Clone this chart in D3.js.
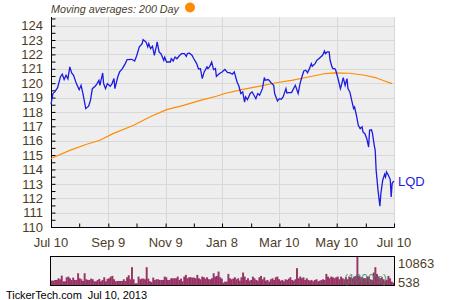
<!DOCTYPE html>
<html>

<head>
  <script src="https://d3js.org/d3.v7.min.js"></script>
  <style>
    body { margin: 0; background: #fff; }
    text { font-family: "Liberation Sans", Arial, sans-serif; }
  </style>
</head>

<body>

  <div id="chart"></div>

  <script>
    // LQD daily close, Jul 10 2012 -> Jul 10 2013 (day offsets from start)
    const startDate = new Date(2012, 6, 10);
    const endDate = new Date(2013, 6, 10);

    const priceDays = [0, 2, 4, 7, 10, 12, 14, 16, 18, 20,
      22, 24, 27, 30, 32, 34, 37, 40, 42, 44,
      47, 49, 51, 52, 55, 56, 58, 60, 63, 65,
      67, 68, 71, 73, 76, 79, 81, 86, 89, 91,
      94, 97, 98, 101, 103, 104, 106, 108, 110, 112,
      113, 115, 117, 120, 121, 123, 127, 128, 130, 132,
      134, 137, 139, 142, 144, 145, 147, 150, 152, 155,
      157, 159, 161, 163, 166, 167, 169, 171, 173, 175,
      176, 179, 182, 185, 188, 190, 193, 195, 198, 200,
      202, 204, 206, 207, 209, 212, 214, 216, 218, 220,
      222, 225, 227, 228, 231, 232, 235, 237, 238, 241,
      243, 245, 247, 250, 251, 253, 256, 259, 260, 263,
      265, 267, 269, 271, 273, 275, 277, 278, 281, 283,
      285, 287, 289, 291, 292, 294, 296, 297, 299, 300,
      302, 303, 305, 308, 309, 311, 313, 315, 316, 318,
      320, 322, 323, 325, 327, 329, 331, 332, 334, 336,
      338, 339, 341, 342, 344, 345, 346, 348, 350, 351,
      353, 355, 356, 357, 359, 361, 362, 363, 364, 365];

    const prices = [118.53, 119.28, 119.39, 119.69, 120.43, 120.62, 120.25, 120.55, 120.30, 121.13,
      120.71, 120.55, 119.97, 119.55, 119.85, 119.28, 118.23, 118.40, 118.80, 119.62,
      119.78, 119.97, 120.20, 119.85, 120.71, 119.97, 119.62, 119.97, 119.78, 119.97,
      120.32, 119.62, 120.43, 120.78, 121.01, 121.36, 121.64, 121.66, 121.54, 121.87,
      122.52, 122.75, 123.03, 122.87, 122.52, 122.75, 122.40, 122.57, 121.94, 122.52,
      122.87, 122.17, 122.05, 121.59, 121.80, 121.47, 121.47, 121.70, 121.54, 121.82,
      121.70, 121.94, 122.05, 122.05, 121.87, 122.05, 122.10, 121.94, 121.70, 121.36,
      120.99, 121.01, 120.32, 120.78, 121.13, 121.01, 121.17, 121.47, 120.94, 121.01,
      120.47, 120.66, 120.78, 120.95, 120.73, 120.73, 120.62, 120.78, 120.08, 119.78,
      119.28, 119.39, 118.69, 119.04, 118.85, 119.28, 119.39, 119.16, 118.92, 119.28,
      119.16, 119.62, 120.39, 120.20, 120.25, 120.20, 119.97, 119.85, 119.28, 118.76,
      118.92, 118.88, 119.04, 119.62, 119.32, 119.34, 119.34, 119.73, 119.85, 119.28,
      119.97, 120.43, 120.85, 120.90, 120.73, 121.01, 121.36, 121.17, 121.36, 121.59,
      121.70, 121.82, 121.94, 122.24, 122.05, 122.17, 122.17, 121.59, 121.13, 121.01,
      121.01, 120.90, 120.43, 119.62, 119.85, 120.39, 119.85, 120.32, 119.62, 119.39,
      118.80, 118.23, 118.34, 117.77, 117.07, 116.84, 116.96, 116.61, 116.49, 116.15,
      115.56, 116.72, 116.76, 116.54, 115.68, 115.33, 113.94, 112.55, 111.44, 112.32,
      113.25, 113.66, 113.48, 113.83, 113.60, 113.30, 112.09, 113.02, 113.13, 113.18];

    // 200 day moving average
    const maDays = [0, 20, 38, 52, 66, 88, 105, 123, 141, 159, 176, 185,
      203, 221, 238, 256, 274, 292, 302, 318, 334, 345, 355, 363];
    const maValues = [114.76, 115.33, 115.75, 116.03, 116.49, 117.07, 117.65, 118.16, 118.46, 118.80, 119.09, 119.28,
      119.55, 119.78, 120.01, 120.20, 120.43, 120.67, 120.71, 120.69, 120.55, 120.39, 120.15, 119.97];

    // volume in 1000's
    const volumes = [1780, 1780, 2030, 2030, 2650, 2280, 3640, 1530, 1530, 3020,
      3270, 2650, 2030, 2900, 2030, 2030, 4510, 2650, 2280, 1660,
      4510, 2280, 2030, 2030, 2530, 2280, 1530, 1530, 2030, 2400,
      1530, 2030, 3020, 1530, 2400, 2650, 3270, 3520, 2280, 1530,
      1660, 1660, 1660, 1660, 2280, 1660, 3020, 3770, 2280, 6750,
      2280, 790, 790, 3270, 2280, 2530, 2530, 2280, 6750, 2530,
      1530, 1280, 2900, 2030, 2280, 2280, 2030, 2030, 2030, 3270,
      3020, 2030, 2030, 2650, 2650, 2650, 2650, 3270, 2030, 2530,
      1530, 3270, 3890, 2650, 3020, 3020, 2900, 2900, 2650, 3890,
      2650, 2280, 3270, 3020, 2530, 3020, 2280, 2280, 2650, 4510,
      3270, 3520, 5130, 3020, 2530,
      1030, 1410, 1410, 4260, 2650, 2280, 2530, 3020, 2280, 2650,
      1780, 3020, 4760, 3270, 2030, 2650, 1780, 2030, 3270, 2650,
      2030, 1780, 3020, 3520, 2280, 3020, 1780, 2030, 1410, 2280,
      2650, 2030, 3020, 3270, 2280, 1780, 2030, 1530, 2280, 2030,
      2530, 3020, 2030, 1780, 2280, 6380, 2650, 3270, 2650, 3020,
      2030, 2650, 2030, 1780, 2030, 1530, 2030, 2280, 1530, 1780,
      2030, 2280, 2030, 4260, 3270, 2650, 3270, 3020, 2650, 3020,
      3270, 2280, 3270, 2650, 2280, 3020, 2280, 3270, 3020, 2650,
      3270, 3520, 10863, 3520, 3020, 3020, 2650, 2650, 3270, 3270,
      2280, 2030, 4760, 6750, 4260, 3270, 2650, 3020, 2280, 1780,
      2030, 3520, 2650, 1410, 1030];

    const labelDates = ["2012-07-10", "2012-09-09", "2012-11-09", "2013-01-08", "2013-03-10", "2013-05-10", "2013-07-10"];
    const tickLabels = ["Jul 10", "Sep 9", "Nov 9", "Jan 8", "Mar 10", "May 10", "Jul 10"];
    const minorDates = ["2012-08-09", "2012-10-09", "2012-12-09", "2013-02-08", "2013-04-10", "2013-06-10"];
    const volLabels = [10863, 538];

    const width = 450;
    const height = 300;
    const pLeft = 51, pRight = 394, pTop = 17, pBottom = 227;
    const volTop = 257, volBottom = 285;

    const parse = d3.timeParse("%Y-%m-%d");
    const dayToDate = d => d3.timeDay.offset(startDate, d);

    const svg = d3.select("#chart")
      .append("svg")
      .attr("width", width)
      .attr("height", height);

    const x = d3.scaleTime().domain([startDate, endDate]).range([pLeft, pRight]);
    const y = d3.scaleLinear().domain([110, 124.6]).range([pBottom, pTop]);

    // plot background
    svg.append("rect")
      .attr("x", pLeft).attr("y", pTop)
      .attr("width", pRight - pLeft).attr("height", pBottom - pTop)
      .attr("fill", "#eeeeee");

    // grid
    svg.append("g")
      .selectAll("line")
      .data(d3.range(111, 125))
      .enter().append("line")
      .attr("x1", pLeft).attr("x2", pRight)
      .attr("y1", d => Math.round(y(d)) + 0.5)
      .attr("y2", d => Math.round(y(d)) + 0.5)
      .attr("stroke", "#d8d8d8");

    svg.append("g")
      .selectAll("line")
      .data(labelDates.slice(1))
      .enter().append("line")
      .attr("x1", d => Math.round(x(parse(d))) + 0.5)
      .attr("x2", d => Math.round(x(parse(d))) + 0.5)
      .attr("y1", pTop).attr("y2", pBottom)
      .attr("stroke", "#d8d8d8");

    // y axis
    const yAxis = svg.append("g")
      .attr("transform", "translate(" + (pLeft + 0.5) + ",0)")
      .call(d3.axisLeft(y).tickValues(d3.range(110, 124.6, 0.5)).tickSize(-4).tickFormat(""));
    yAxis.select(".domain").attr("d", "M0," + pTop + "V" + (pBottom + 0.5)).attr("stroke", "#000");
    yAxis.selectAll(".tick line").attr("stroke", "#000");

    svg.append("g")
      .selectAll("text")
      .data(d3.range(110, 125))
      .enter().append("text")
      .attr("x", 43)
      .attr("y", d => y(d))
      .attr("dy", "0.36em")
      .attr("text-anchor", "end")
      .attr("font-size", 13)
      .attr("fill", "#4d3d1f")
      .text(d => d);

    // x axis
    const xAxis = svg.append("g")
      .attr("transform", "translate(0," + (pBottom + 0.5) + ")")
      .call(d3.axisBottom(x)
        .tickValues(labelDates.concat(minorDates).map(parse))
        .tickSize(-4).tickFormat(""));
    xAxis.select(".domain").attr("d", "M" + pLeft + ",0H" + (pRight + 0.5)).attr("stroke", "#000");
    xAxis.selectAll(".tick line").attr("stroke", "#000");

    svg.append("g")
      .selectAll("text")
      .data(labelDates)
      .enter().append("text")
      .attr("x", d => x(parse(d)))
      .attr("y", 247)
      .attr("text-anchor", "middle")
      .attr("font-size", 13)
      .attr("fill", "#4d3d1f")
      .text((d, i) => tickLabels[i]);

    // moving average
    const line = d3.line()
      .x(d => x(dayToDate(d[0])))
      .y(d => y(d[1]));

    svg.append("path")
      .datum(maDays.map((d, i) => [d, maValues[i]]))
      .attr("d", line)
      .attr("fill", "none")
      .attr("stroke", "#ff8c00")
      .attr("stroke-width", 1.2);

    // price
    svg.append("path")
      .datum(priceDays.map((d, i) => [d, prices[i]]))
      .attr("d", line)
      .attr("fill", "none")
      .attr("stroke", "#1c1ce0")
      .attr("stroke-width", 1.3);

    svg.append("text")
      .attr("x", pRight + 4)
      .attr("y", y(prices[prices.length - 1]))
      .attr("dy", "0.36em")
      .attr("font-size", 13)
      .attr("fill", "#1c1ce0")
      .text("LQD");

    // title
    svg.append("text")
      .attr("x", 51)
      .attr("y", 13)
      .attr("font-size", 11.5)
      .attr("font-style", "italic")
      .attr("fill", "#4a4030")
      .attr("textLength", 128)
      .attr("lengthAdjust", "spacingAndGlyphs")
      .text("Moving averages: 200 Day");

    svg.append("circle")
      .attr("cx", 190).attr("cy", 7.5).attr("r", 5)
      .attr("fill", "#ff8c00");

    // volume panel
    const xv = d3.scaleBand().domain(d3.range(volumes.length)).range([pLeft, pRight]);
    const yv = d3.scaleLinear().domain([538, 10863]).range([volBottom, volTop]);

    svg.append("rect")
      .attr("x", pLeft).attr("y", volTop - 0.5)
      .attr("width", pRight - pLeft).attr("height", volBottom - volTop + 0.5)
      .attr("fill", "#eeeeee");

    svg.append("g")
      .selectAll("rect")
      .data(volumes)
      .enter().append("rect")
      .attr("x", (d, i) => xv(i))
      .attr("y", d => yv(d) - 1)
      .attr("width", xv.bandwidth() + 0.3)
      .attr("height", d => volBottom - yv(d) + 1)
      .attr("fill", "#993366");

    svg.append("rect")
      .attr("x", pLeft - 0.5).attr("y", volTop - 0.5)
      .attr("width", pRight - pLeft + 1).attr("height", volBottom - volTop + 1)
      .attr("fill", "none")
      .attr("stroke", "#000");

    svg.append("text")
      .attr("x", 344)
      .attr("y", 279)
      .attr("dy", "0.36em")
      .attr("font-size", 12)
      .attr("fill", "#3f7f62")
      .attr("fill-opacity", 0.85)
      .text("(1000's)");

    svg.append("g")
      .selectAll("text")
      .data(volLabels)
      .enter().append("text")
      .attr("x", 398)
      .attr("y", (d, i) => i == 0 ? 263 : 282)
      .attr("dy", "0.36em")
      .attr("font-size", 13)
      .attr("fill", "#4d3d1f")
      .text(d => d);

    // footer
    svg.append("text")
      .attr("x", 6)
      .attr("y", 299)
      .attr("font-size", 11)
      .attr("fill", "#000")
      .style("white-space", "pre")
      .attr("textLength", 141)
      .text("TickerTech.com  Jul 10, 2013");
  </script>
</body>

</html>
